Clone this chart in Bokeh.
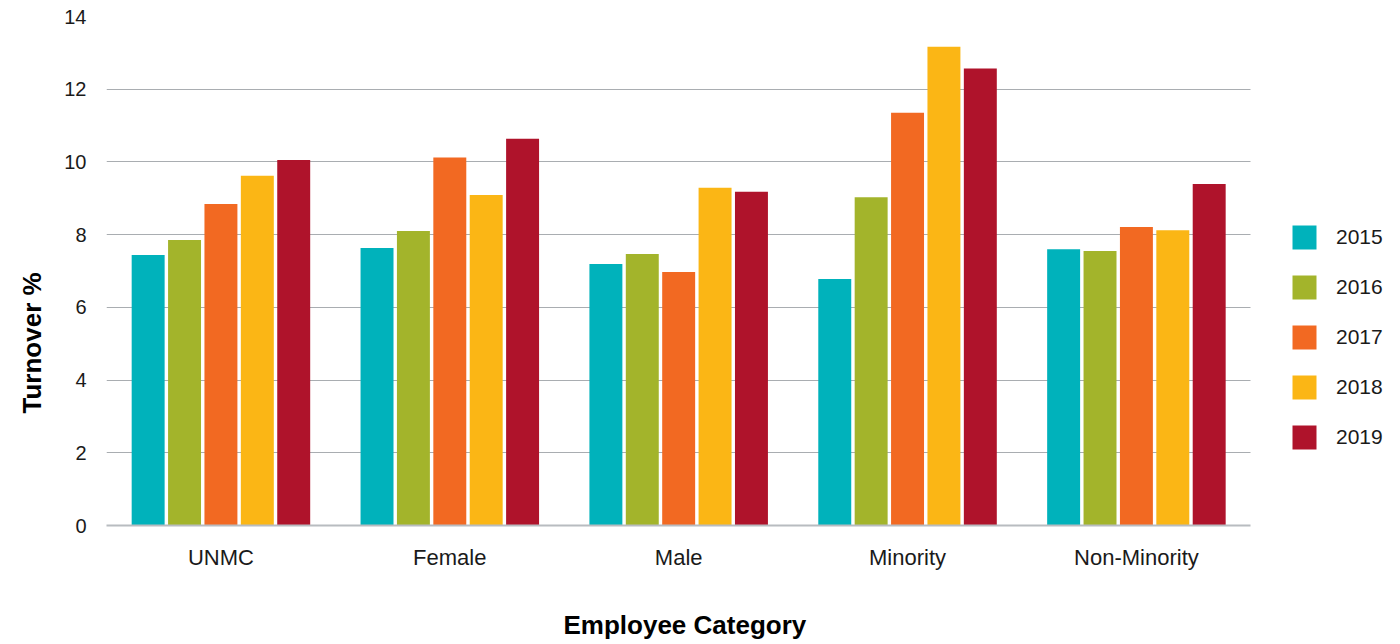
from bokeh.plotting import figure
from bokeh.models import ColumnDataSource, Range1d, FixedTicker, Title
from bokeh.transform import dodge
from bokeh.embed import file_html
from bokeh.resources import INLINE

categories = ["UNMC", "Female", "Male", "Minority", "Non-Minority"]
years = ["2015", "2016", "2017", "2018", "2019"]
v2015 = [7.44, 7.63, 7.19, 6.78, 7.60]
v2016 = [7.85, 8.10, 7.47, 9.03, 7.55]
v2017 = [8.84, 10.12, 6.97, 11.35, 8.21]
v2018 = [9.62, 9.09, 9.29, 13.17, 8.12]
v2019 = [10.05, 10.64, 9.18, 12.57, 9.39]
colors = ["#00B2BB", "#A3B42B", "#F26922", "#FBB615", "#AF132B"]
y_ticks = [0, 2, 4, 6, 8, 10, 12, 14]

n = len(categories)
centers = [i + 0.5 for i in range(n)]
source = ColumnDataSource(dict(xc=centers, cat=categories, y2015=v2015, y2016=v2016,
                               y2017=v2017, y2018=v2018, y2019=v2019))

FONT = "Liberation Sans"
W, H = 1400, 644
LEFT, RIGHT_EDGE = 103, 1250          # plotting area of the categories
frame_w = W - LEFT
x_end = n * frame_w / (RIGHT_EDGE - LEFT)   # extra room on the right for the legend

p = figure(x_range=Range1d(0, x_end), y_range=Range1d(0, 14), width=W, height=H,
           output_backend="svg", toolbar_location=None,
           min_border_left=LEFT, min_border_right=0,
           min_border_top=16, min_border_bottom=119)

offsets = [-0.318, -0.159, 0.0, 0.159, 0.318]
for yr, off, col in zip(years, offsets, colors):
    p.vbar(x=dodge("xc", off), top="y" + yr, width=0.144,
           source=source, fill_color=col, line_color=None, legend_label=yr)

p.outline_line_color = None
p.background_fill_color = "white"
p.border_fill_color = "white"
p.xgrid.grid_line_color = None
ygrid = p.ygrid[0]
ygrid.grid_line_color = "#A9ADB1"
ygrid.grid_line_width = 1
if "cross_bounds" in ygrid.properties():
    ygrid.cross_bounds = (0, n)

p.yaxis.ticker = FixedTicker(ticks=y_ticks)
p.yaxis.axis_line_color = None
p.yaxis.major_tick_line_color = None
p.yaxis.minor_tick_line_color = None
p.yaxis.major_tick_out = 0
p.yaxis.major_tick_in = 0
p.yaxis.major_label_standoff = 20
p.yaxis.major_label_text_font = FONT
p.yaxis.major_label_text_font_size = "20px"
p.yaxis.major_label_text_color = "#1a1a1a"

xaxis = p.xaxis[0]
xaxis.ticker = FixedTicker(ticks=centers)
xaxis.major_label_overrides = {c: name for c, name in zip(centers, categories)}
xaxis.bounds = (0, n)
xaxis.axis_line_color = "#B8BCC0"
xaxis.axis_line_width = 2
xaxis.major_tick_line_color = None
xaxis.minor_tick_line_color = None
xaxis.major_tick_out = 0
xaxis.major_tick_in = 0
xaxis.major_label_standoff = 19
xaxis.major_label_text_font = FONT
xaxis.major_label_text_font_size = "22px"
xaxis.major_label_text_color = "#1a1a1a"
# trailing no-break spaces centre the label on the category area, not the whole frame
xaxis.axis_label = "Employee Category" + "\u00a0" * 19
xaxis.axis_label_text_font = FONT
xaxis.axis_label_text_font_size = "26px"
xaxis.axis_label_text_font_style = "bold"
xaxis.axis_label_text_color = "#000000"
xaxis.axis_label_standoff = 37

y_title = Title(text="Turnover %", align="left", offset=112, standoff=29,
                text_font=FONT, text_font_size="26px", text_font_style="bold",
                text_color="#000000")
p.add_layout(y_title, "left")

lg = p.legend[0]
lg.location = (1183, 73)
lg.border_line_color = None
lg.background_fill_alpha = 0
lg.padding = 0
lg.margin = 0
lg.glyph_width = 30
lg.glyph_height = 30
lg.label_height = 30
lg.label_standoff = 17
lg.spacing = 20
lg.label_text_font = FONT
lg.label_text_font_size = "21px"
lg.label_text_color = "#1a1a1a"

open("out.html", "w").write(file_html(p, INLINE))
